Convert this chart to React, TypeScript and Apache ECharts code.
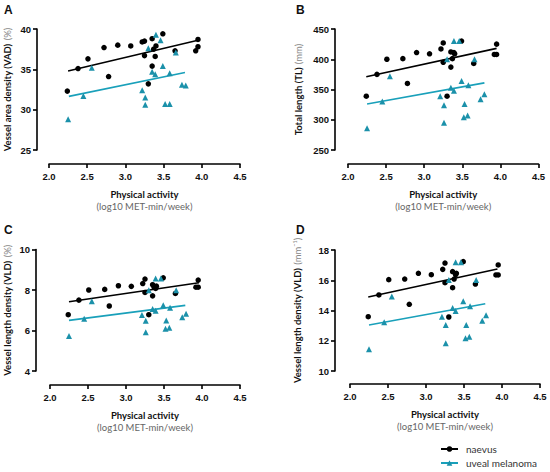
import React, { useEffect, useRef } from "react";
import * as echarts from "echarts";

// ---- Data ----
const xTicks = [2.0, 2.5, 3.0, 3.5, 4.0, 4.5];

const naevusX = [2.24, 2.38, 2.51, 2.72, 2.78, 2.9, 3.07, 3.22, 3.25, 3.25, 3.3, 3.35, 3.35, 3.37, 3.39, 3.4, 3.49, 3.65, 3.92, 3.95, 3.95];
const melanomaX = [2.25, 2.45, 2.55, 3.21, 3.26, 3.26, 3.3, 3.35, 3.39, 3.39, 3.46, 3.49, 3.53, 3.52, 3.57, 3.58, 3.66, 3.74, 3.79];
const melanomaXA = [2.25, 2.45, 2.56, 3.22, 3.26, 3.26, 3.3, 3.35, 3.4, 3.39, 3.46, 3.49, 3.52, 3.58, 3.58, 3.66, 3.74, 3.79];

// Panel A: VAD (%)
const vadNaevus = [32.3, 35.1, 36.3, 37.7, 34.1, 38.0, 37.9, 38.4, 38.5, 36.7, 33.2, 38.8, 35.4, 37.5, 36.6, 37.9, 39.4, 37.3, 37.3, 38.7, 37.8];
const vadMelanoma = [28.8, 31.7, 35.2, 32.4, 31.5, 30.6, 37.6, 34.7, 39.3, 34.4, 38.6, 35.4, 30.7, 30.7, 34.5, 37.1, 33.1, 33.0];
const vadFitNaevus = [[2.25, 34.8], [3.95, 38.6]];
const vadFitMelanoma = [[2.26, 31.65], [3.78, 34.6]];

// Panel B: TL (mm)
const tlNaevus = [339, 375, 400, 401, 360, 411, 409, 417, 427, 395, 339, 412, 387, 401, 411, 409, 430, 393, 408, 425, 408];
const tlMelanoma = [286, 330, 372, 339, 324, 295, 400, 353, 430, 348, 430, 364, 326, 304, 307, 357, 400, 334, 342];
const tlFitNaevus = [[2.24, 371], [3.95, 418]];
const tlFitMelanoma = [[2.25, 326], [3.79, 361]];

// Panel C: VLD (%)
const vldPctNaevus = [6.78, 7.5, 8.0, 8.03, 7.21, 8.21, 8.18, 8.32, 8.54, 7.88, 6.78, 8.26, 7.71, 8.14, 8.08, 8.19, 8.6, 7.83, 8.14, 8.49, 8.14];
const vldPctMelanoma = [5.73, 6.58, 7.44, 6.76, 6.48, 5.91, 7.99, 7.06, 8.57, 6.98, 8.57, 7.25, 6.5, 6.09, 6.14, 7.12, 7.99, 6.66, 6.83];
const vldPctFitNaevus = [[2.25, 7.42], [3.96, 8.36]];
const vldPctFitMelanoma = [[2.25, 6.5], [3.78, 7.24]];

// Panel D: VLD (mm^-1)
const vldMmNaevus = [13.59, 15.03, 16.04, 16.08, 14.41, 16.46, 16.37, 16.72, 17.14, 15.84, 13.57, 16.57, 15.51, 16.08, 16.37, 16.46, 17.23, 15.75, 16.35, 17.01, 16.35];
const vldMmMelanoma = [11.44, 13.22, 14.92, 13.59, 13.04, 11.83, 16.02, 14.17, 17.19, 13.97, 17.19, 14.61, 13.04, 12.16, 12.27, 14.28, 16.02, 13.33, 13.68];
const vldMmFitNaevus = [[2.24, 14.89], [3.94, 16.74]];
const vldMmFitMelanoma = [[2.25, 13.04], [3.78, 14.45]];

const panelLetters = ["A", "B", "C", "D"];
const seriesNames = ["naevus", "uveal melanoma"];

const BLACK = "#000000";
const TEAL_PT = "#1b91aa";
const TEAL_LINE = "#19a0ba";
const TITLE_FONT = "Lato, 'Noto Sans', sans-serif";
const TICK_FONT = "'Liberation Sans', Arial, sans-serif";

const zip = (xs: number[], ys: number[]) => ys.map((y, i) => [xs[i], y]);

const App: React.FC = () => {
  const ref = useRef<HTMLDivElement>(null);

  useEffect(() => {
    if (!ref.current) return;
    const chart = echarts.init(ref.current, undefined, { renderer: "svg" });

    const grids = [
      { left: 49, top: 29, width: 191, height: 121 },
      { left: 348, top: 29, width: 190.5, height: 121 },
      { left: 50, top: 249.5, width: 190, height: 121.5 },
      { left: 350, top: 250, width: 190, height: 121 },
    ];

    const yDefs = [
      { min: 25, max: 40, interval: 5, name: "{b|Vessel area density (VAD)} {g|(%)}", gap: 24, off: 12 },
      { min: 250, max: 450, interval: 50, name: "{b|Total length (TL)} {g|(mm)}", gap: 31, off: 13 },
      { min: 4, max: 10, interval: 2, name: "{b|Vessel length density (VLD)} {g|(%)}", gap: 23, off: 14 },
      { min: 10, max: 18, interval: 2, name: "{b|Vessel length density (VLD)} {g|(mm\u207B\u00B9)}", gap: 32, off: 15 },
    ];
    const xOffsets = [14, 14, 14, 13];

    const xAxis = grids.map((_, i) => ({
      type: "value",
      gridIndex: i,
      min: xTicks[0],
      max: xTicks[xTicks.length - 1],
      interval: 0.5,
      offset: xOffsets[i],
      name: "{b|Physical activity}\n{g|(log10 MET-min/week)}",
      nameLocation: "middle",
      nameGap: 25,
      nameTextStyle: {
        rich: {
          b: { fontFamily: TITLE_FONT, fontWeight: "bold", fontSize: 9.5, color: "#111", lineHeight: 11.5 },
          g: { fontFamily: TITLE_FONT, fontSize: 9.5, color: "#666", lineHeight: 11.5 },
        },
      },
      axisLine: { show: true, onZero: false, lineStyle: { color: BLACK, width: 1.6 } },
      axisTick: { show: true, length: 4, lineStyle: { color: BLACK, width: 1.6 } },
      axisLabel: {
        margin: 7,
        fontFamily: TICK_FONT,
        fontWeight: "bold",
        fontSize: 9.5,
        color: "#111",
        formatter: (v: number) => v.toFixed(1),
      },
      splitLine: { show: false },
    }));

    const yAxis = yDefs.map((d, i) => ({
      type: "value",
      gridIndex: i,
      min: d.min,
      max: d.max,
      interval: d.interval,
      offset: d.off,
      name: d.name,
      nameLocation: "middle",
      nameRotate: 90,
      nameGap: d.gap,
      nameTextStyle: {
        rich: {
          b: { fontFamily: TITLE_FONT, fontWeight: "bold", fontSize: 9.5, color: "#111" },
          g: { fontFamily: TITLE_FONT, fontSize: 9.5, color: "#888" },
        },
      },
      axisLine: { show: true, onZero: false, lineStyle: { color: BLACK, width: 1.6 } },
      axisTick: { show: true, length: 4, lineStyle: { color: BLACK, width: 1.6 } },
      axisLabel: {
        margin: 6,
        fontFamily: TICK_FONT,
        fontWeight: "bold",
        fontSize: 9.5,
        color: "#111",
      },
      splitLine: { show: false },
    }));

    const panels = [
      { n: vadNaevus, m: vadMelanoma, mx: melanomaXA, fn: vadFitNaevus, fm: vadFitMelanoma },
      { n: tlNaevus, m: tlMelanoma, mx: melanomaX, fn: tlFitNaevus, fm: tlFitMelanoma },
      { n: vldPctNaevus, m: vldPctMelanoma, mx: melanomaX, fn: vldPctFitNaevus, fm: vldPctFitMelanoma },
      { n: vldMmNaevus, m: vldMmMelanoma, mx: melanomaX, fn: vldMmFitNaevus, fm: vldMmFitMelanoma },
    ];

    const lineSeries: any[] = [];
    const scatterSeries: any[] = [];
    panels.forEach((p, i) => {
      lineSeries.push({
        type: "line",
        name: seriesNames[0],
        xAxisIndex: i,
        yAxisIndex: i,
        data: p.fn,
        symbol: "circle",
        showSymbol: false,
        lineStyle: { color: BLACK, width: 1.6 },
        itemStyle: { color: BLACK },
        silent: true,
        z: 2,
      });
      lineSeries.push({
        type: "line",
        name: seriesNames[1],
        xAxisIndex: i,
        yAxisIndex: i,
        data: p.fm,
        symbol: "triangle",
        showSymbol: false,
        lineStyle: { color: TEAL_LINE, width: 1.6 },
        itemStyle: { color: TEAL_PT },
        silent: true,
        z: 2,
      });
      scatterSeries.push({
        type: "scatter",
        name: seriesNames[0],
        xAxisIndex: i,
        yAxisIndex: i,
        data: zip(naevusX, p.n),
        symbol: "circle",
        symbolSize: 5.5,
        itemStyle: { color: BLACK, opacity: 1 },
        z: 3,
      });
      scatterSeries.push({
        type: "scatter",
        name: seriesNames[1],
        xAxisIndex: i,
        yAxisIndex: i,
        data: zip(p.mx, p.m),
        symbol: "triangle",
        symbolSize: 6,
        itemStyle: { color: TEAL_PT, opacity: 1 },
        z: 3,
      });
    });

    const titlePos = [
      { left: 4, top: 4 },
      { left: 296, top: 4 },
      { left: 4, top: 224 },
      { left: 296, top: 224 },
    ];

    chart.setOption({
      animation: false,
      backgroundColor: "#ffffff",
      title: panelLetters.map((t, i) => ({
        text: t,
        left: titlePos[i].left,
        top: titlePos[i].top,
        padding: 0,
        textStyle: { fontFamily: TICK_FONT, fontWeight: "bold", fontSize: 12, color: "#111" },
      })),
      grid: grids,
      xAxis,
      yAxis,
      legend: {
        data: seriesNames,
        orient: "vertical",
        left: 440,
        top: 443,
        itemWidth: 17,
        itemHeight: 7,
        itemGap: 2,
        padding: 0,
        selectedMode: false,
        textStyle: { fontFamily: TITLE_FONT, fontSize: 10, color: "#333", padding: [0, 0, 0, 3], lineHeight: 12 },
      },
      series: [...lineSeries, ...scatterSeries],
    });

    return () => chart.dispose();
  }, []);

  return (
    <div
      ref={ref}
      style={{ position: "fixed", left: 0, top: 0, width: 550, height: 472, background: "#fff" }}
    />
  );
};

export default App;
